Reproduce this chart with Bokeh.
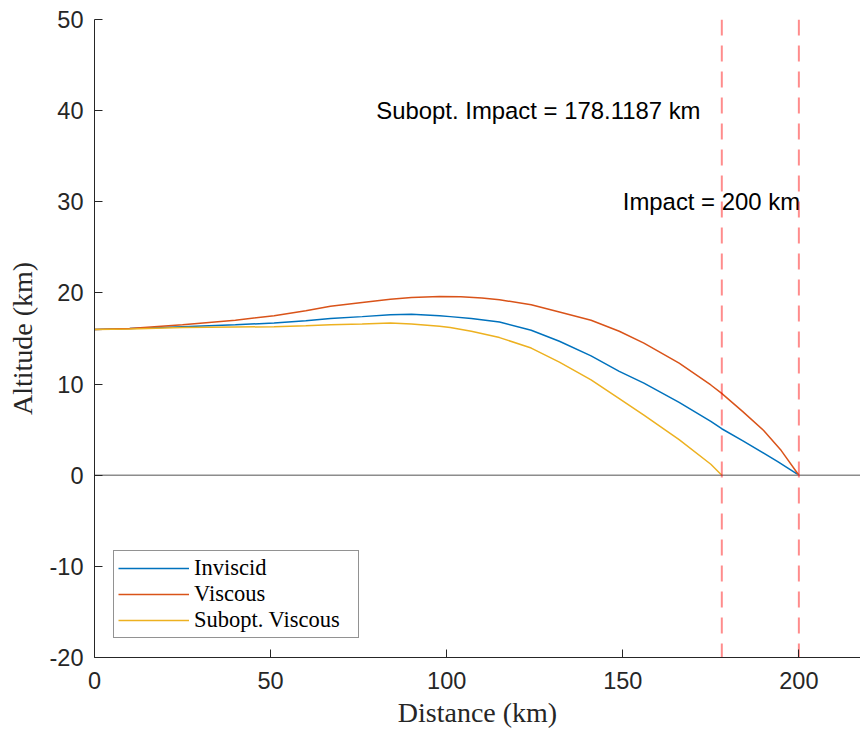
from bokeh.plotting import figure
from bokeh.models import Range1d, FixedTicker, Legend, LegendItem, ColumnDataSource
from bokeh.core.properties import value
from bokeh.embed import file_html
from bokeh.resources import INLINE

# Trajectory data: downrange distance (km) vs altitude (km)
inviscid_x = [0, 10, 25, 40, 51, 60, 67, 76, 84, 90, 98, 101, 107, 115, 124, 132, 141, 149, 156, 166, 175, 178.1, 184, 194, 200]
inviscid_y = [16.0, 16.1, 16.3, 16.5, 16.7, 16.95, 17.2, 17.4, 17.6, 17.65, 17.5, 17.4, 17.2, 16.8, 15.9, 14.7, 13.1, 11.4, 10.1, 8.0, 5.9, 5.1, 3.8, 1.5, 0.0]

viscous_x = [0, 10, 25, 40, 51, 60, 67, 76, 84, 90, 98, 104, 110, 115, 124, 132, 141, 149, 156, 166, 175, 178, 184, 190, 195, 200]
viscous_y = [16.0, 16.1, 16.5, 17.0, 17.5, 18.05, 18.55, 18.95, 19.3, 19.5, 19.6, 19.57, 19.45, 19.25, 18.7, 17.9, 17.0, 15.8, 14.5, 12.3, 9.9, 9.0, 7.0, 4.9, 2.7, 0.0]

subopt_x = [0, 10, 25, 40, 51, 60, 67, 76, 84, 90, 98, 101, 107, 115, 124, 132, 141, 149, 156, 166, 175, 178.1187]
subopt_y = [16.0, 16.05, 16.2, 16.25, 16.3, 16.4, 16.5, 16.6, 16.7, 16.6, 16.35, 16.2, 15.8, 15.1, 13.95, 12.4, 10.45, 8.4, 6.6, 3.9, 1.2, 0.0]

impact_km = 200
subopt_impact_km = 178.1187

x_ticks = [0, 50, 100, 150, 200]
y_ticks = [-20, -10, 0, 10, 20, 30, 40, 50]

BLUE = "#0072BD"
ORANGE = "#D95319"
YELLOW = "#EDB120"
AXIS_GRAY = "#262626"

x_min, x_max = 0, 217.5
y_min, y_max = -20, 50

p = figure(width=860, height=730,
           x_range=Range1d(x_min, x_max), y_range=Range1d(y_min, y_max),
           output_backend="svg", toolbar_location=None,
           min_border_left=94, min_border_right=0,
           min_border_top=19, min_border_bottom=72)
p.grid.visible = False
p.outline_line_color = None
p.background_fill_color = "white"
p.border_fill_color = "white"

p.xaxis.ticker = FixedTicker(ticks=x_ticks)
p.yaxis.ticker = FixedTicker(ticks=y_ticks)
p.yaxis.major_label_overrides = {t: str(t) for t in y_ticks}
p.xaxis.major_label_overrides = {t: str(t) for t in x_ticks}

for ax in (p.xaxis[0], p.yaxis[0]):
    ax.major_tick_in = 8
    ax.major_tick_out = 0
    ax.minor_tick_in = 0
    ax.minor_tick_out = 0
    ax.axis_line_color = AXIS_GRAY
    ax.axis_line_width = 1
    ax.major_tick_line_color = AXIS_GRAY
    ax.major_tick_line_width = 1
    ax.major_label_text_font = "Liberation Sans"
    ax.major_label_text_font_size = "23.5px"
    ax.major_label_text_color = AXIS_GRAY
    ax.axis_label_text_font = "Liberation Serif"
    ax.axis_label_text_font_size = "28px"
    ax.axis_label_text_font_style = "normal"
    ax.axis_label_text_color = AXIS_GRAY

p.xaxis.axis_label = "Distance (km)"
p.yaxis.axis_label = "Altitude (km)"
p.xaxis.major_label_standoff = 14
p.xaxis.axis_label_standoff = 5
p.yaxis.major_label_standoff = 11
p.yaxis.axis_label_standoff = 9

# Trajectories
r_inv = p.line(inviscid_x, inviscid_y, line_color=BLUE, line_width=1.5)
r_visc = p.line(viscous_x, viscous_y, line_color=ORANGE, line_width=1.5)
r_sub = p.line(subopt_x, subopt_y, line_color=YELLOW, line_width=1.5)

# Ground level
p.segment(x0=[x_min], y0=[0], x1=[x_max], y1=[0], line_color="#8c8c8c", line_width=1.5)

# Impact annotations
p.text(x=[80], y=[40], text=[f"Subopt. Impact = {subopt_impact_km:.4f} km"],
       text_font=value("Liberation Sans"), text_font_size="23.9px",
       text_color="black", text_align="left", text_baseline="middle")
p.text(x=[150], y=[30], text=[f"Impact = {impact_km:g} km"],
       text_font=value("Liberation Sans"), text_font_size="23.9px",
       text_color="black", text_align="left", text_baseline="middle")

impact_src = ColumnDataSource(dict(x=[subopt_impact_km, impact_km]))
p.segment(x0="x", y0=y_max, x1="x", y1=y_min, source=impact_src,
          line_color="#ff0000", line_alpha=0.45, line_width=2, line_dash="16 10")

legend = Legend(items=[
    LegendItem(label="Inviscid", renderers=[r_inv]),
    LegendItem(label="Viscous", renderers=[r_visc]),
    LegendItem(label="Subopt. Viscous", renderers=[r_sub]),
], location=(19, 19))
legend.glyph_width = 71
legend.glyph_height = 20
legend.label_height = 20
legend.label_width = 160
legend.label_standoff = 5
legend.spacing = 0
legend.padding = 4
legend.margin = 0
legend.border_line_color = AXIS_GRAY
legend.border_line_width = 1
legend.background_fill_color = "white"
legend.background_fill_alpha = 1
legend.label_text_font = "Liberation Serif"
legend.label_text_font_size = "22.5px"
legend.label_text_color = "black"
p.add_layout(legend)

open("out.html", "w").write(file_html(p, INLINE))
